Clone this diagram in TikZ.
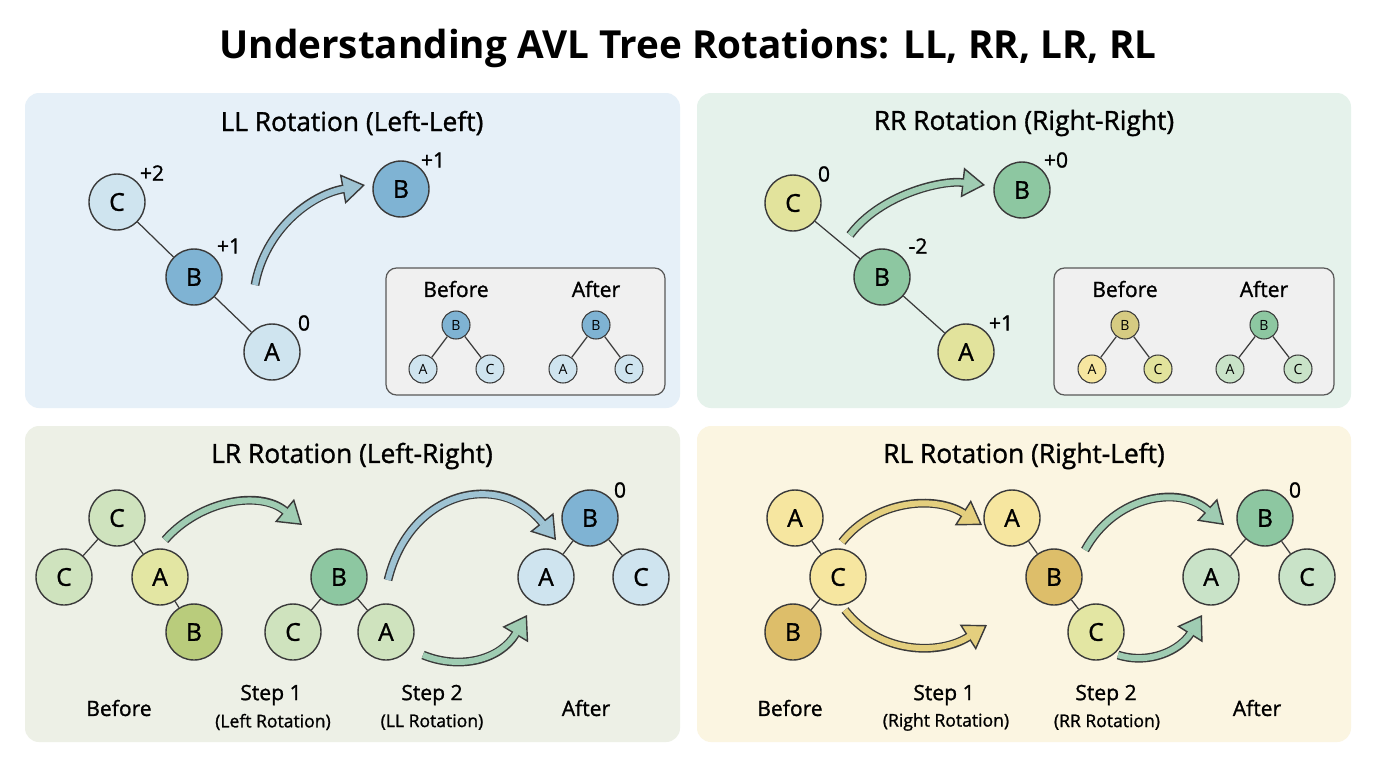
\documentclass[tikz,border=0pt]{standalone}
\usepackage{fontspec}
\setmainfont{Open Sans}
\newfontfamily\semi{Open Sans}[FakeBold=1.2]
\usetikzlibrary{arrows.meta}
\definecolor{bgA}{HTML}{E6F0F8}\definecolor{bgB}{HTML}{E5F2EB}
\definecolor{bgC}{HTML}{EDF0E6}\definecolor{bgD}{HTML}{FBF5E1}
\definecolor{lb}{HTML}{CFE4EF}\definecolor{mb}{HTML}{7FB3D3}
\definecolor{yl}{HTML}{E2E39C}\definecolor{gr}{HTML}{8DC7A1}
\definecolor{lg}{HTML}{CFE3BE}\definecolor{ol}{HTML}{B9CC7C}
\definecolor{yg}{HTML}{E3E6A3}\definecolor{ly}{HTML}{F6E6A0}
\definecolor{dy}{HTML}{DDBE6A}\definecolor{lgg}{HTML}{C9E3C8}
\definecolor{olb}{HTML}{D6CB82}
\definecolor{arB}{HTML}{9EC3D3}\definecolor{arG}{HTML}{9FCCB2}\definecolor{arY}{HTML}{E4CF7E}
\definecolor{edge}{HTML}{3A3A3A}
\tikzset{
 n/.style={circle,draw=edge,line width=0.8pt,minimum size=1.12cm,inner sep=0pt,font=\semi\fontsize{14}{14}\selectfont},
 m/.style={circle,draw=edge,line width=0.6pt,minimum size=0.56cm,inner sep=0pt,font=\fontsize{8}{8}\selectfont},
 e/.style={edge,line width=0.7pt},
 panel/.style={rounded corners=8pt,draw=none},
 ttl/.style={font=\semi\fontsize{15}{15}\selectfont},
 lbl/.style={font=\semi\fontsize{12}{12}\selectfont},
 sm/.style={font=\semi\fontsize{10}{10}\selectfont},
 box/.style={rounded corners=6pt,draw=gray!70!black,fill=gray!12,line width=0.7pt},
}
\newcommand{\fatarrow}[3]{% color, start, path rest
 \draw[edge,line width=5pt,-{Triangle[length=13pt,width=17pt,fill=#1,line width=0.8pt]}] #2 #3;
 \draw[#1,line width=3.4pt,shorten >=12pt] #2 #3;}
\begin{document}
\begin{tikzpicture}[x=0.02cm,y=-0.02cm]
\useasboundingbox (0,0) rectangle (1376,768);
\fill[white] (0,0) rectangle (1376,768);
\node[font=\fontsize{22}{22}\selectfont\bfseries] (title) at (688,48) {Understanding AVL Tree Rotations: LL, RR, LR, RL};
\fill[panel,bgA] (25,93) rectangle (680,408);
\fill[panel,bgB] (697,93) rectangle (1351,408);
\fill[panel,bgC] (25,426) rectangle (680,742);
\fill[panel,bgD] (697,426) rectangle (1351,742);
% TL
\node[ttl] (t1) at (352,123) {LL Rotation (Left-Left)};
\node[n,fill=lb] (c1) at (117,202) {C}; \node[lbl] (c1b) at (152,173) {+2};
\node[n,fill=mb] (b1) at (194,277) {B}; \node[lbl] (b1b) at (229,246) {+1};
\node[n,fill=lb] (a1) at (272,352) {A}; \node[lbl] (a1b) at (304,323) {0};
\draw[e] (c1)--(b1); \draw[e] (b1)--(a1);
\coordinate (p1) at (255,285); \coordinate (q1) at (365,185);
\fatarrow{arB}{(p1)}{.. controls (265,230) and (310,195) .. (q1)}
\node[n,fill=mb] (b1r) at (401,189) {B}; \node[lbl] (b1rb) at (433,160) {+1};
\draw[box] (386,268) rectangle (665,395);
\node[lbl] (bef1) at (456,289) {Before}; \node[lbl] (aft1) at (596,289) {After};
\node[m,fill=mb] (mb1) at (456,325) {B}; \node[m,fill=lb] (ma1) at (423,369) {A}; \node[m,fill=lb] (mc1) at (490,369) {C};
\node[m,fill=mb] (mb2) at (596,325) {B}; \node[m,fill=lb] (ma2) at (563,369) {A}; \node[m,fill=lb] (mc2) at (629,369) {C};
\draw[e] (mb1)--(ma1); \draw[e] (mb1)--(mc1); \draw[e] (mb2)--(ma2); \draw[e] (mb2)--(mc2);
% TR
\node[ttl] (t2) at (1024,123) {RR Rotation (Right-Right)};
\node[n,fill=yl] (c2) at (793,203) {C}; \node[lbl] (c2b) at (824,174) {0};
\node[n,fill=gr] (b2) at (882,277) {B}; \node[lbl] (b2b) at (918,246) {-2};
\node[n,fill=yl] (a2) at (966,352) {A}; \node[lbl] (a2b) at (1001,323) {+1};
\draw[e] (c2)--(b2); \draw[e] (b2)--(a2);
\coordinate (p2) at (850,235); \coordinate (q2) at (985,185);
\fatarrow{arG}{(p2)}{.. controls (880,195) and (940,180) .. (q2)}
\node[n,fill=gr] (b2r) at (1022,190) {B}; \node[lbl] (b2rb) at (1056,160) {+0};
\draw[box] (1054,268) rectangle (1334,395);
\node[lbl] (bef2) at (1125,289) {Before}; \node[lbl] (aft2) at (1264,289) {After};
\node[m,fill=olb] (mb3) at (1125,325) {B}; \node[m,fill=ly] (ma3) at (1092,369) {A}; \node[m,fill=yl] (mc3) at (1158,369) {C};
\node[m,fill=gr] (mb4) at (1264,325) {B}; \node[m,fill=lgg] (ma4) at (1230,369) {A}; \node[m,fill=lgg] (mc4) at (1298,369) {C};
\draw[e] (mb3)--(ma3); \draw[e] (mb3)--(mc3); \draw[e] (mb4)--(ma4); \draw[e] (mb4)--(mc4);
% BL
\node[ttl] (t3) at (352,456) {LR Rotation (Left-Right)};
\node[n,fill=lg] (c3) at (117,518) {C}; \node[n,fill=lg] (c3l) at (64,577) {C};
\node[n,fill=yg] (a3) at (160,577) {A}; \node[n,fill=ol] (b3) at (194,632) {B};
\draw[e] (c3)--(c3l); \draw[e] (c3)--(a3); \draw[e] (a3)--(b3);
\coordinate (p3) at (165,540); \coordinate (q3) at (302,525);
\fatarrow{arG}{(p3)}{.. controls (200,500) and (260,490) .. (q3)}
\node[n,fill=gr] (b4) at (339,577) {B}; \node[n,fill=lg] (c4) at (293,632) {C}; \node[n,fill=lg] (a4) at (386,632) {A};
\draw[e] (b4)--(c4); \draw[e] (b4)--(a4);
\coordinate (p4) at (388,580); \coordinate (q4) at (556,540);
\fatarrow{arB}{(p4)}{.. controls (410,490) and (500,470) .. (q4)}
\coordinate (p5) at (423,655); \coordinate (q5) at (527,615);
\fatarrow{arG}{(p5)}{.. controls (460,670) and (500,660) .. (q5)}
\node[n,fill=mb] (b5) at (590,518) {B}; \node[lbl] (b5b) at (620,490) {0};
\node[n,fill=lb] (a5) at (546,577) {A}; \node[n,fill=lb] (c5) at (641,577) {C};
\draw[e] (b5)--(a5); \draw[e] (b5)--(c5);
\node[lbl] (l31) at (119,708) {Before};
\node[lbl] (l32) at (271,695) {Step 1}; \node[sm] (l33) at (273,722) {(Left Rotation)};
\node[lbl] (l34) at (432,695) {Step 2}; \node[sm] (l35) at (432,722) {(LL Rotation)};
\node[lbl] (l36) at (586,708) {After};
% BR
\node[ttl] (t4) at (1024,456) {RL Rotation (Right-Left)};
\node[n,fill=ly] (a6) at (795,518) {A}; \node[n,fill=ly] (c6) at (838,577) {C}; \node[n,fill=dy] (b6) at (793,632) {B};
\draw[e] (a6)--(c6); \draw[e] (c6)--(b6);
\coordinate (p6) at (842,542); \coordinate (q6) at (982,525);
\fatarrow{arY}{(p6)}{.. controls (875,500) and (935,495) .. (q6)}
\coordinate (p7) at (845,610); \coordinate (q7) at (987,625);
\fatarrow{arY}{(p7)}{.. controls (880,655) and (940,655) .. (q7)}
\node[n,fill=ly] (a7) at (1012,518) {A}; \node[n,fill=dy] (b7) at (1054,577) {B}; \node[n,fill=yg] (c7) at (1096,632) {C};
\draw[e] (a7)--(b7); \draw[e] (b7)--(c7);
\coordinate (p8) at (1085,550); \coordinate (q8) at (1224,525);
\fatarrow{arG}{(p8)}{.. controls (1115,495) and (1180,485) .. (q8)}
\coordinate (p9) at (1118,655); \coordinate (q9) at (1202,615);
\fatarrow{arG}{(p9)}{.. controls (1150,665) and (1180,650) .. (q9)}
\node[n,fill=gr] (b8) at (1265,518) {B}; \node[lbl] (b8b) at (1295,490) {0};
\node[n,fill=lgg] (a8) at (1211,577) {A}; \node[n,fill=lgg] (c8) at (1307,577) {C};
\draw[e] (b8)--(a8); \draw[e] (b8)--(c8);
\node[lbl] (l41) at (790,708) {Before};
\node[lbl] (l42) at (944,695) {Step 1}; \node[sm] (l43) at (946,722) {(Right Rotation)};
\node[lbl] (l44) at (1106,695) {Step 2}; \node[sm] (l45) at (1107,722) {(RR Rotation)};
\node[lbl] (l46) at (1257,708) {After};
\end{tikzpicture}
\end{document}
